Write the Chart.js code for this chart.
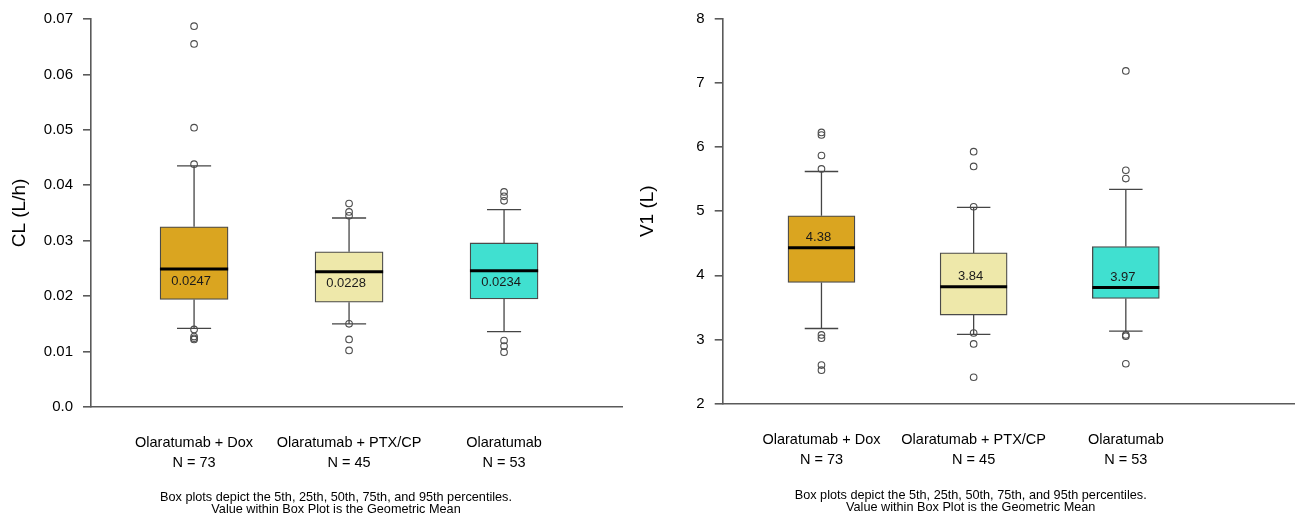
<!DOCTYPE html>
<html>
<head>
<meta charset="utf-8">
<title>Olaratumab PK: CL and V1 by regimen</title>
<script src="https://cdn.jsdelivr.net/npm/chart.js@4.4.1/dist/chart.umd.min.js"></script>
<style>
  html, body { margin: 0; padding: 0; background: #ffffff; }
  #wrap { position: relative; width: 1300px; height: 519px; overflow: hidden; }
  canvas { position: absolute; top: 0; }
  #clChart { left: 0; }
  #v1Chart { left: 630px; }
</style>
</head>
<body>
<div id="wrap">
  <canvas id="clChart" width="630" height="519"></canvas>
  <canvas id="v1Chart" width="670" height="519"></canvas>
</div>
<script>
// ---- shared categories ----
const groups = ['Olaratumab + Dox', 'Olaratumab + PTX/CP', 'Olaratumab'];
const groupN = [73, 45, 53];
const boxColors = ['#DAA520', '#EEE8AA', '#40E0D0'];
const noteLines = [
  'Box plots depict the 5th, 25th, 50th, 75th, and 95th percentiles.',
  'Value within Box Plot is the Geometric Mean'
];

// ---- CL (L/h) percentiles, geometric means and outlying values ----
const clP5  = [0.0142, 0.0150, 0.0136];
const clP25 = [0.0194, 0.0189, 0.0195];
const clP50 = [0.0249, 0.0244, 0.0246];
const clP75 = [0.0325, 0.0280, 0.0296];
const clP95 = [0.0435, 0.0341, 0.0356];
const clGeoMean = [0.0247, 0.0228, 0.0234];
const clOutDox = [0.0687, 0.0655, 0.0504, 0.0438, 0.0140, 0.0127, 0.0124, 0.0122];
const clOutPtx = [0.0367, 0.0352, 0.0345, 0.0150, 0.0122, 0.0102];
const clOutMono = [0.0388, 0.0380, 0.0372, 0.0120, 0.0110, 0.0099];
const clTickValues = [0, 0.01, 0.02, 0.03, 0.04, 0.05, 0.06, 0.07];
const clTickLabels = ['0.0', '0.01', '0.02', '0.03', '0.04', '0.05', '0.06', '0.07'];

// ---- V1 (L) percentiles, geometric means and outlying values ----
const v1P5  = [3.17, 3.08, 3.13];
const v1P25 = [3.89, 3.38, 3.64];
const v1P50 = [4.43, 3.82, 3.81];
const v1P75 = [4.93, 4.35, 4.45];
const v1P95 = [5.62, 5.06, 5.34];
const v1GeoMean = [4.38, 3.84, 3.97];
const v1OutDox = [6.23, 6.19, 5.87, 5.66, 3.07, 3.02, 2.60, 2.52];
const v1OutPtx = [5.93, 5.70, 5.07, 3.10, 2.93, 2.41];
const v1OutMono = [7.19, 5.64, 5.51, 3.07, 3.05, 2.62];
const v1TickValues = [2, 3, 4, 5, 6, 7, 8];
const v1TickLabels = ['2', '3', '4', '5', '6', '7', '8'];

const FONT = '"Liberation Sans", Arial, Helvetica, sans-serif';
const AXIS = '#5a5a5a';
const LINE = '#454545';
const HALF_BOX = 0.22;   // half box width in x units
const CAP = 0.11;        // half whisker-cap width in x units

// Geometric-mean labels inside each box and the footnote under the axis
function makeTextPlugin(s) {
  return {
    id: 'boxText',
    afterDatasetsDraw(chart) {
      const { ctx } = chart;
      const x = chart.scales.x, y = chart.scales.y;
      ctx.save();
      ctx.fillStyle = '#1a1a1a';
      ctx.textAlign = 'center';
      ctx.textBaseline = 'middle';
      ctx.font = '13px ' + FONT;
      s.geo.forEach((g, i) => {
        const px = x.getPixelForValue(i + 1) - 3;
        const py = y.getPixelForValue(s.p50[i]) + s.labelShift;
        ctx.fillText(g.toFixed(s.digits), px, py);
      });
      ctx.fillStyle = '#000';
      ctx.font = '12.7px ' + FONT;
      noteLines.forEach((line, k) => ctx.fillText(line, s.noteX, s.noteY + k * 12));
      ctx.restore();
    }
  };
}

function boxChart(canvasId, s) {
  const xs = groups.map((_, i) => i + 1);

  const boxes = xs.map((x, i) => ({ x, y: [s.p25[i], s.p75[i]] }));

  const whiskers = [];
  const medians = [];
  xs.forEach((x, i) => {
    whiskers.push(
      { x, y: s.p75[i] }, { x, y: s.p95[i] }, { x, y: null },
      { x: x - CAP, y: s.p95[i] }, { x: x + CAP, y: s.p95[i] }, { x, y: null },
      { x, y: s.p25[i] }, { x, y: s.p5[i] }, { x, y: null },
      { x: x - CAP, y: s.p5[i] }, { x: x + CAP, y: s.p5[i] }, { x, y: null }
    );
    medians.push({ x: x - HALF_BOX, y: s.p50[i] }, { x: x + HALF_BOX, y: s.p50[i] }, { x, y: null });
  });

  const outliers = [];
  s.out.forEach((vals, i) => vals.forEach(v => outliers.push({ x: i + 1, y: v })));

  return new Chart(document.getElementById(canvasId), {
    type: 'scatter',
    data: {
      datasets: [
        {
          type: 'bar',
          data: boxes,
          backgroundColor: boxColors,
          borderColor: '#4a4a4a',
          borderWidth: 1.3,
          borderSkipped: false,
          barThickness: s.barPx,
          order: 3
        },
        {
          type: 'line',
          data: whiskers,
          borderColor: LINE,
          borderWidth: 1.3,
          pointRadius: 0,
          spanGaps: false,
          fill: false,
          order: 2
        },
        {
          type: 'line',
          data: medians,
          borderColor: '#000000',
          borderWidth: 3,
          borderCapStyle: 'butt',
          pointRadius: 0,
          spanGaps: false,
          fill: false,
          order: 1
        },
        {
          type: 'scatter',
          data: outliers,
          pointStyle: 'circle',
          pointRadius: 3.3,
          pointBorderWidth: 1.1,
          pointBorderColor: '#4d4d4d',
          pointBackgroundColor: 'rgba(255,255,255,0)',
          order: 0
        }
      ]
    },
    options: {
      responsive: false,
      animation: false,
      events: [],
      layout: { padding: { left: 0, right: s.padR, top: s.padT, bottom: 0 } },
      plugins: {
        legend: { display: false },
        tooltip: { enabled: false },
        title: { display: false }
      },
      scales: {
        x: {
          type: 'linear',
          min: s.xMin,
          max: s.xMax,
          offset: false,
          grid: { display: false, drawTicks: false },
          border: { display: true, color: AXIS, width: 1.6 },
          afterBuildTicks: sc => { sc.ticks = xs.map(v => ({ value: v })); },
          afterFit: sc => { sc.height = s.xAxisH; },
          ticks: {
            autoSkip: false,
            maxRotation: 0,
            minRotation: 0,
            padding: s.xPad,
            color: '#000',
            font: { family: FONT, size: 14.5, lineHeight: 20 / 14.5 },
            callback: (v, i) => [groups[i], 'N = ' + groupN[i]]
          }
        },
        y: {
          type: 'linear',
          min: s.yMin,
          max: s.yMax,
          afterBuildTicks: sc => { sc.ticks = s.tickValues.map(v => ({ value: v })); },
          afterFit: sc => { sc.width = s.yAxisW; },
          grid: { display: true, drawOnChartArea: false, drawTicks: true, tickLength: 8, color: AXIS, lineWidth: 1.6 },
          border: { display: true, color: AXIS, width: 1.6 },
          ticks: {
            padding: 10,
            color: '#000',
            font: { family: FONT, size: 15 },
            callback: (v, i) => s.tickLabels[i]
          },
          title: {
            display: true,
            text: s.title,
            color: '#000',
            font: { family: FONT, size: 19 },
            padding: { top: s.titlePad, bottom: 0 }
          }
        }
      }
    },
    plugins: [makeTextPlugin(s)]
  });
}

boxChart('clChart', {
  title: 'CL (L/h)',
  p5: clP5, p25: clP25, p50: clP50, p75: clP75, p95: clP95,
  geo: clGeoMean, digits: 4, labelShift: 12,
  out: [clOutDox, clOutPtx, clOutMono],
  tickValues: clTickValues, tickLabels: clTickLabels,
  yMin: 0, yMax: 0.07,
  xMin: 0.335, xMax: 3.761,
  barPx: 68,
  padR: 8, padT: 17, yAxisW: 91, xAxisH: 112, xPad: 25.5, titlePad: 8.6,
  noteX: 336, noteY: 497
});

boxChart('v1Chart', {
  title: 'V1 (L)',
  p5: v1P5, p25: v1P25, p50: v1P50, p75: v1P75, p95: v1P95,
  geo: v1GeoMean, digits: 2, labelShift: -10,
  out: [v1OutDox, v1OutPtx, v1OutMono],
  tickValues: v1TickValues, tickLabels: v1TickLabels,
  yMin: 2, yMax: 8,
  xMin: 0.351, xMax: 4.111,
  barPx: 67,
  padR: 2, padT: 16.7, yAxisW: 92.7, xAxisH: 115.5, xPad: 26, titlePad: 5.9,
  noteX: 340.7, noteY: 495
});
</script>
</body>
</html>
